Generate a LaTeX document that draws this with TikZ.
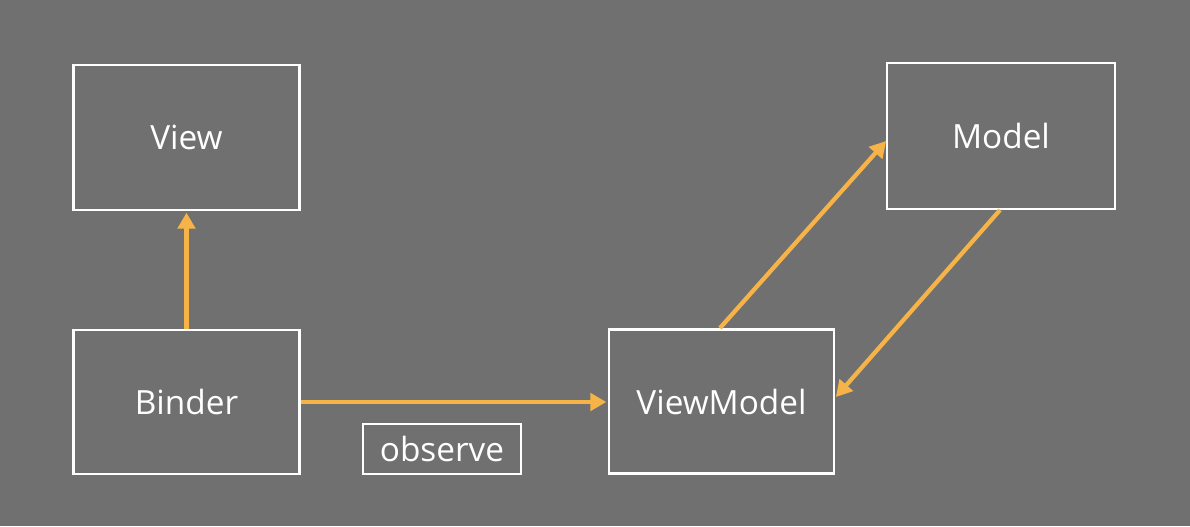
\documentclass[tikz,border=0pt]{standalone}
\usepackage{fontspec}
\setmainfont{Open Sans}
\usetikzlibrary{arrows.meta}
\definecolor{bg}{RGB}{112,112,112}
\definecolor{arr}{RGB}{246,180,72}
\tikzset{
  box/.style={draw=white, line width=2pt, inner sep=0pt, font=\fontsize{25}{29}\selectfont, text=white},
  link/.style={draw=arr, line width=3.2pt, -{Triangle[length=12pt,width=13pt]}, shorten >=1pt},
}
\begin{document}
\begin{tikzpicture}[x=0.75pt,y=-0.75pt]
\useasboundingbox (0,0) rectangle (1190,526);
\fill[bg] (0,0) rectangle (1190,526);
\node[box, minimum width=226*0.75pt, minimum height=145*0.75pt] (view) at (186.5,137.5) {View};
\node[box, minimum width=226*0.75pt, minimum height=144*0.75pt] (binder) at (186.5,402) {Binder};
\node[box, minimum width=225*0.75pt, minimum height=144*0.75pt] (vm) at (721.5,401.5) {ViewModel};
\node[box, minimum width=228*0.75pt, minimum height=146*0.75pt] (model) at (1001,136) {Model};
\node[box, minimum width=158*0.75pt, minimum height=50*0.75pt] (obs) at (442,449) {observe};
\coordinate (vmtop) at (720,328);
\coordinate (mleft) at (887,140);
\coordinate (mbot) at (1000,210);
\coordinate (vmright) at (835,398);
\draw[link] (binder.north) -- (view.south);
\draw[link] (binder.east) -- (binder.east -| vm.west);
\draw[link] (vmtop) -- (mleft);
\draw[link] (mbot) -- (vmright);
\end{tikzpicture}
\end{document}
